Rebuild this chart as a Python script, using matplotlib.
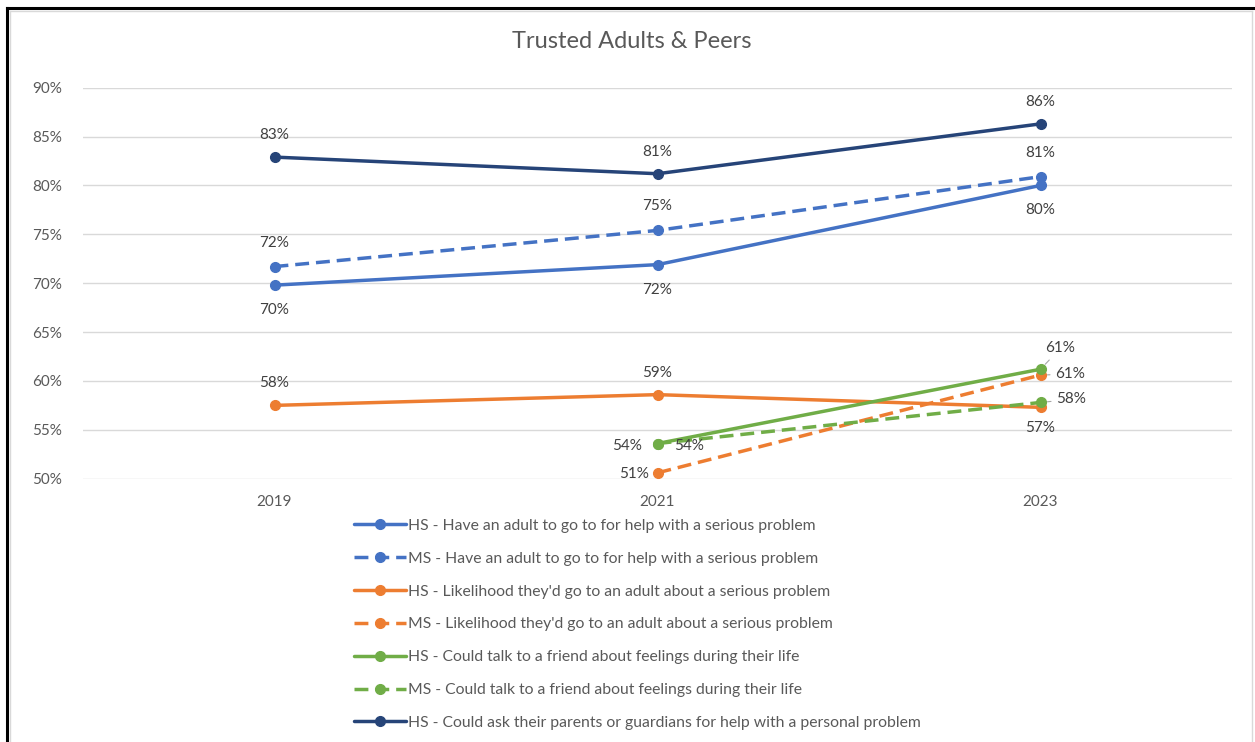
import numpy as np
import matplotlib.pyplot as plt
from matplotlib.lines import Line2D

plt.rcParams.update({"font.family": ["Lato", "DejaVu Sans"],
                     "font.size": 11})

years = ["2019", "2021", "2023"]

hs_adult = [69.8, 71.9, 80.0]
ms_adult = [71.7, 75.4, 80.9]
hs_likely = [57.5, 58.6, 57.3]
ms_likely = [np.nan, 50.6, 60.6]
hs_friend = [np.nan, 53.6, 61.2]
ms_friend = [np.nan, 53.6, 57.8]
hs_parents = [82.9, 81.2, 86.3]

labels = [
    "HS - Have an adult to go to for help with a serious problem",
    "MS - Have an adult to go to for help with a serious problem",
    "HS - Likelihood they'd go to an adult about a serious problem",
    "MS - Likelihood they'd go to an adult about a serious problem",
    "HS - Could talk to a friend about feelings during their life",
    "MS - Could talk to a friend about feelings during their life",
    "HS - Could ask their parents or guardians for help with a personal problem",
]

BLUE = "#4472C4"
ORANGE = "#ED7D31"
GREEN = "#70AD47"
NAVY = "#264478"
TXT = "#404040"

W, H = 1255, 742
fig = plt.figure(figsize=(W / 100, H / 100), dpi=100)
ax = fig.add_axes([83 / W, 1 - 478.7 / H, 1149 / W, (478.7 - 87.7) / H])

x = np.arange(len(years))
series = [
    (hs_adult, BLUE, "-"),
    (ms_adult, BLUE, "--"),
    (hs_likely, ORANGE, "-"),
    (ms_likely, ORANGE, "--"),
    (hs_friend, GREEN, "-"),
    (ms_friend, GREEN, "--"),
    (hs_parents, NAVY, "-"),
]
for (vals, col, ls), lab in zip(series, labels):
    line, = ax.plot(x, vals, color=col, lw=2.5, ls=ls, marker="o", ms=7,
                    label=lab, solid_capstyle="round", dash_capstyle="butt")
    if ls == "--":
        line.set_dashes((4, 2))


# data labels: offsets in pixels (dx, dy), optional leader line
def lab(vals, i, dx, dy, leader=False):
    v = vals[i]
    kw = {}
    if leader:
        kw["arrowprops"] = dict(arrowstyle="-", color="#A6A6A6", lw=0.8,
                                shrinkA=2, shrinkB=5)
    ax.annotate(f"{v:.0f}%", (x[i], v),
                xytext=(dx * 0.72, -dy * 0.72), textcoords="offset points",
                ha="center", va="center", color=TXT, fontsize=11, **kw)


for i in range(3):
    lab(hs_parents, i, 0, -22)
    lab(ms_adult, i, 0, -24)
    lab(hs_adult, i, 0, 25)
lab(hs_likely, 0, 0, -22)
lab(hs_likely, 1, 0, -22)
lab(hs_likely, 2, 0, 21)
lab(hs_friend, 1, -30, 2)
lab(hs_friend, 2, 20, -21, leader=True)
lab(ms_friend, 1, 32, 2)
lab(ms_friend, 2, 31, -3, leader=True)
lab(ms_likely, 1, -23, 1)
lab(ms_likely, 2, 30, -1, leader=True)

ax.set_xlim(-0.5, 2.5)
ax.set_ylim(50, 90)
ax.set_xticks(x)
ax.set_xticklabels(years)
ax.set_yticks(np.arange(50, 91, 5))
ax.set_yticklabels([f"{v}%" for v in range(50, 91, 5)])
ax.tick_params(length=0, colors="#595959", labelsize=11)
ax.tick_params(axis="y", pad=15)
ax.tick_params(axis="x", pad=12)
ax.grid(axis="y", color="#D9D9D9", lw=1)
ax.set_axisbelow(True)
for s in ax.spines.values():
    s.set_visible(False)

fig.text(632 / W, 1 - 42 / H, "Trusted Adults & Peers", ha="center",
         va="center", fontsize=17, color="#595959")

ax.legend(loc="upper left", bbox_to_anchor=(346 / W, 1 - 511 / H),
          bbox_transform=fig.transFigure, frameon=False, ncol=1,
          fontsize=11.3, labelcolor="#595959", handlelength=3.3,
          handletextpad=0.12, labelspacing=1.2, borderpad=0)

# frame around the chart (screenshot edges)
fig.add_artist(Line2D([7 / W, 7 / W], [0, 1 - 8 / H], color="black", lw=2.2,
                      transform=fig.transFigure))
fig.add_artist(Line2D([7 / W, 1], [1 - 8 / H, 1 - 8 / H], color="black",
                      lw=2.2, transform=fig.transFigure))
fig.add_artist(Line2D([10 / W, 10 / W], [0, 1 - 11 / H], color="#D9D9D9",
                      lw=1, transform=fig.transFigure))
fig.add_artist(Line2D([10 / W, 1252 / W], [1 - 11 / H, 1 - 11 / H],
                      color="#D9D9D9", lw=1, transform=fig.transFigure))
fig.add_artist(Line2D([1252 / W, 1252 / W], [0, 1 - 11 / H], color="#D9D9D9",
                      lw=1, transform=fig.transFigure))

fig.savefig("out.png", dpi=100)
